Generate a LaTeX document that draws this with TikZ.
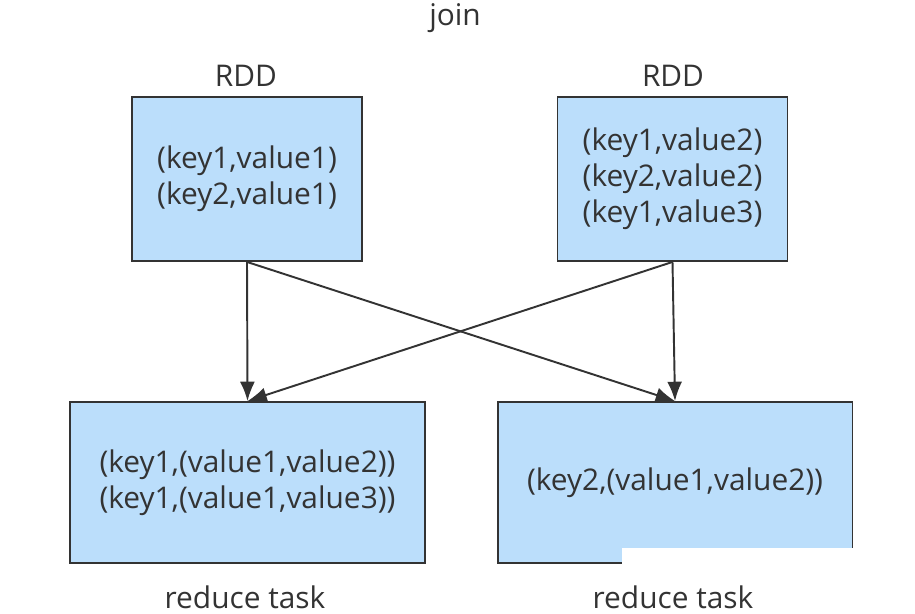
\documentclass[tikz,border=0pt]{standalone}
\usepackage{fontspec}
\setmainfont{Open Sans}
\usetikzlibrary{arrows.meta}
\definecolor{boxblue}{RGB}{187,222,251}
\definecolor{inkgray}{RGB}{51,51,51}
\tikzset{
  rddbox/.style={draw=inkgray,line width=1.1pt,fill=boxblue,text=inkgray,align=center,
    font=\fontsize{17}{20.5}\selectfont,inner sep=0pt,minimum width=4.6cm,minimum height=3.28cm},
  taskbox/.style={rddbox,minimum width=7.1cm,minimum height=3.22cm},
  caption/.style={text=inkgray,font=\fontsize{17}{20}\selectfont,inner sep=0pt},
  flow/.style={draw=inkgray,line width=1.1pt,-{Latex[length=11pt,width=8.5pt]}}
}

\begin{document}
\begin{tikzpicture}[x=0.02cm,y=-0.02cm]
                        \useasboundingbox (0,0) rectangle (915,614);
                        % the two input RDDs
                        \node[rddbox] (rddA) at (247,179) {(key1,value1)\\(key2,value1)};
                        \node[rddbox] (rddB) at (672.5,179) {(key1,value2)\\(key2,value2)\\(key1,value3)};
                        % reduce tasks
                        \node[taskbox] (taskA) at (247.5,482.5) {(key1,(value1,value2))\\(key1,(value1,value3))};
                        \node[taskbox] (taskB) at (675,482.5) {(key2,(value1,value2))};
                        \fill[white] (622,548) rectangle (858,580);
                        % captions
                        \node[caption] (join) at (455,18) {join};
                        \node[caption] (rddlabelA) at (246,76) {RDD};
                        \node[caption] (rddlabelB) at (673,76) {RDD};
                        \node[caption] (tasklabelA) at (245,597) {reduce task};
                        \node[caption] (tasklabelB) at (673,597) {reduce task};
                        % shuffle
                        \draw[flow] (rddA.south) -- (taskA.north);
                        \draw[flow] (rddA.south) -- (taskB.north);
                        \draw[flow] (rddB.south) -- (taskB.north);
                        \draw[flow] (rddB.south) -- (taskA.north);
                    \end{tikzpicture}
\end{document}
